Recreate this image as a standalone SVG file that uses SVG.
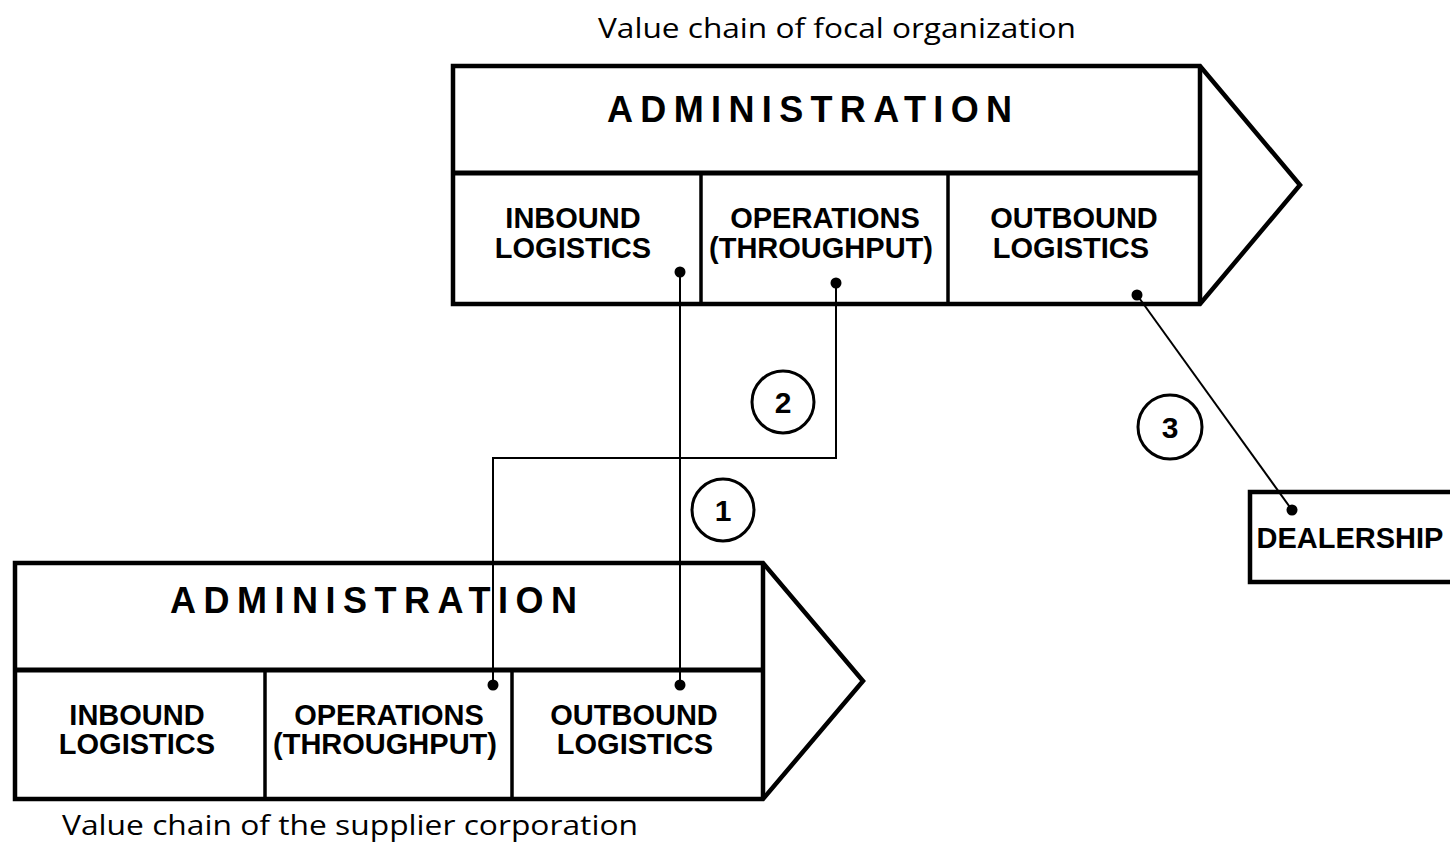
<svg xmlns="http://www.w3.org/2000/svg" width="1450" height="849" viewBox="0 0 1450 849">
  <style>
    .frame { fill: none; stroke: #000; stroke-width: 4.5; stroke-linejoin: miter; }
    .cell { fill: none; stroke: #000; stroke-width: 3.5; }
    .band { stroke: #000; stroke-width: 5; }
    .wire { fill: none; stroke: #000; stroke-width: 2; }
    .dot { fill: #000; }
    .ring { fill: none; stroke: #000; stroke-width: 3; }
    .lbl { font-family: "Liberation Sans", Arial, sans-serif; font-weight: bold; font-size: 29px; fill: #000; text-anchor: middle; }
    .head { font-family: "Liberation Sans", Arial, sans-serif; font-weight: bold; font-size: 36px; fill: #000; }
    .num { font-family: "Liberation Sans", Arial, sans-serif; font-weight: bold; font-size: 30px; fill: #000; text-anchor: middle; }
    .cap { font-family: "Open Sans", "Liberation Sans", sans-serif; font-size: 28px; fill: #000; }
  </style>
  <rect width="1450" height="849" fill="#fff"/>

  <!-- focal organization value chain -->
  <g id="focal-chain">
    <text class="cap" x="598" y="38" textLength="478" lengthAdjust="spacingAndGlyphs">Value chain of focal organization</text>
    <path class="frame" d="M453 66 H1200 L1300 185 L1200 304 H453 Z"/>
    <line class="frame" x1="1200" y1="66" x2="1200" y2="304"/>
    <line class="band" x1="453" y1="173" x2="1200" y2="173"/>
    <line class="cell" x1="701" y1="173" x2="701" y2="304"/>
    <line class="cell" x1="948" y1="173" x2="948" y2="304"/>
    <text class="head" x="607" y="122" textLength="405" lengthAdjust="spacing">ADMINISTRATION</text>
    <text class="lbl" x="573" y="228">INBOUND</text>
    <text class="lbl" x="573" y="258">LOGISTICS</text>
    <text class="lbl" x="825" y="228">OPERATIONS</text>
    <text class="lbl" x="821" y="258">(THROUGHPUT)</text>
    <text class="lbl" x="1074" y="228">OUTBOUND</text>
    <text class="lbl" x="1071" y="258">LOGISTICS</text>
  </g>

  <!-- supplier value chain -->
  <g id="supplier-chain">
    <path class="frame" d="M15 563 H763 L863 681 L763 799 H15 Z"/>
    <line class="frame" x1="763" y1="563" x2="763" y2="799"/>
    <line class="band" x1="15" y1="670" x2="763" y2="670"/>
    <line class="cell" x1="265" y1="670" x2="265" y2="799"/>
    <line class="cell" x1="512" y1="670" x2="512" y2="799"/>
    <text class="head" x="170" y="613" textLength="407" lengthAdjust="spacing">ADMINISTRATION</text>
    <text class="lbl" x="137" y="725">INBOUND</text>
    <text class="lbl" x="137" y="754">LOGISTICS</text>
    <text class="lbl" x="389" y="725">OPERATIONS</text>
    <text class="lbl" x="385" y="754">(THROUGHPUT)</text>
    <text class="lbl" x="634" y="725">OUTBOUND</text>
    <text class="lbl" x="635" y="754">LOGISTICS</text>
    <text class="cap" x="62" y="835" textLength="576" lengthAdjust="spacingAndGlyphs">Value chain of the supplier corporation</text>
  </g>

  <!-- dealership -->
  <g id="dealership">
    <rect class="frame" x="1250" y="492" width="230" height="90"/>
    <text class="lbl" x="1350" y="548">DEALERSHIP</text>
  </g>

  <!-- links between the chains -->
  <g id="connectors">
    <path class="wire" d="M680 272 V685"/>
    <circle class="dot" cx="680" cy="272" r="5.5"/>
    <circle class="dot" cx="680" cy="685" r="5.5"/>

    <path class="wire" d="M836 283 V458 H493 V685"/>
    <circle class="dot" cx="836" cy="283" r="5.5"/>
    <circle class="dot" cx="493" cy="685" r="5.5"/>

    <path class="wire" d="M1137 295 L1292 510"/>
    <circle class="dot" cx="1137" cy="295" r="5.5"/>
    <circle class="dot" cx="1292" cy="510" r="5.5"/>
  </g>

  <!-- numbered markers -->
  <g id="marker-1">
    <circle class="ring" cx="723" cy="510" r="31"/>
    <text class="num" x="723" y="521">1</text>
  </g>
  <g id="marker-2">
    <circle class="ring" cx="783" cy="402" r="31"/>
    <text class="num" x="783" y="413">2</text>
  </g>
  <g id="marker-3">
    <circle class="ring" cx="1170" cy="427" r="32"/>
    <text class="num" x="1170" y="438">3</text>
  </g>
</svg>
